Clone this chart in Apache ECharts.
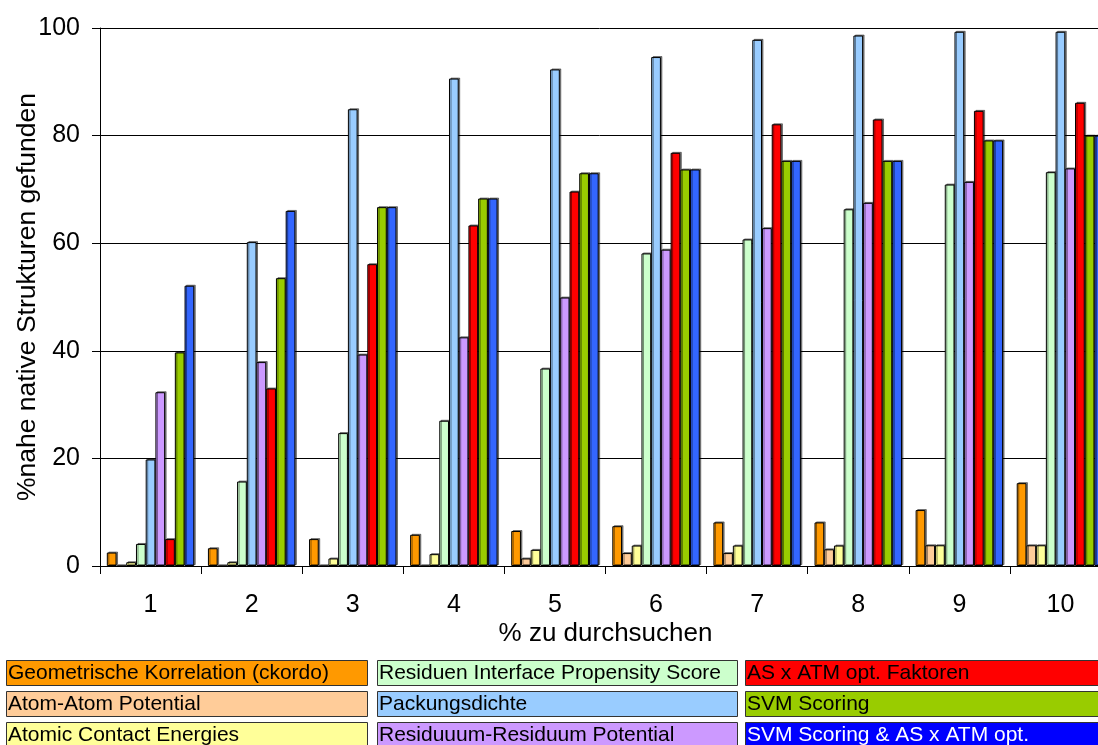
<!DOCTYPE html>
<html>
<head>
<meta charset="utf-8">
<script src="https://cdn.jsdelivr.net/npm/echarts@6/dist/echarts.min.js"></script>
<style>
  html, body { margin: 0; padding: 0; background: #fff; }
  #chart { width: 1098px; height: 745px; }
</style>
</head>
<body>
<div id="chart"></div>
<script>
// ---- Data ----
const categories = ['1', '2', '3', '4', '5', '6', '7', '8', '9', '10'];
const seriesNames = [
  'Geometrische Korrelation (ckordo)',
  'Atom-Atom Potential',
  'Atomic Contact Energies',
  'Residuen Interface Propensity Score',
  'Packungsdichte',
  'Residuuum-Residuum Potential',
  'AS x ATM opt. Faktoren',
  'SVM Scoring',
  'SVM Scoring & AS x ATM opt.'
];
const geometrische = [2.5, 3.3, 5.0, 5.8, 6.5, 7.4, 8.1, 8.1, 10.4, 15.4];
const atomAtom     = [0, 0, 0, 0, 1.4, 2.4, 2.4, 3.1, 3.85, 3.85];
const atomicContact= [0.7, 0.7, 1.4, 2.2, 3.0, 3.8, 3.8, 3.8, 3.85, 3.85];
const residuenIPS  = [4.1, 15.7, 24.7, 27.0, 36.7, 58.1, 60.7, 66.3, 70.9, 73.2];
const packung      = [19.8, 60.2, 84.9, 90.6, 92.3, 94.6, 97.8, 98.6, 99.3, 99.3];
const resRes       = [32.3, 37.9, 39.3, 42.5, 49.9, 58.8, 62.8, 67.5, 71.4, 73.9];
const asAtm        = [5.0, 33.0, 56.1, 63.3, 69.6, 76.8, 82.1, 83.0, 84.6, 86.1];
const svm          = [39.7, 53.5, 66.7, 68.3, 73.0, 73.7, 75.3, 75.3, 79.1, 80.0];
const svmAsAtm     = [52.1, 66.0, 66.7, 68.3, 73.0, 73.7, 75.3, 75.3, 79.1, 80.0];
const yTicks = [0, 20, 40, 60, 80, 100];

const seriesData = [geometrische, atomAtom, atomicContact, residuenIPS, packung, resRes, asAtm, svm, svmAsAtm];
const barColors = ['#FF9900', '#FFCC99', '#FFFF99', '#CCFFCC', '#99CCFF', '#CC99FF', '#FF0000', '#99CC00', '#3366FF'];
const legendColors = ['#FF9900', '#FFCC99', '#FFFF99', '#CCFFCC', '#99CCFF', '#CC99FF', '#FF0000', '#99CC00', '#0000FF'];
const legendTextColors = ['#000', '#000', '#000', '#000', '#000', '#000', '#000', '#000', '#fff'];

const FONT = "'Liberation Sans', Arial, Helvetica, sans-serif";

const chart = echarts.init(document.getElementById('chart'), null, { renderer: 'canvas' });

const series = seriesNames.map((name, i) => ({
  name: name,
  type: 'bar',
  data: seriesData[i],
  barGap: '0%',
  barCategoryGap: '13.5%',
  animation: false,
  itemStyle: {
    color: barColors[i],
    borderColor: '#000',
    borderWidth: 1,
    shadowColor: 'rgba(0,0,0,0.45)',
    shadowOffsetX: 1.5,
    shadowOffsetY: -1,
    shadowBlur: 0
  },
  emphasis: { disabled: true }
}));

// legend boxes (drawn as graphic, column-major)
const colX = [6, 377, 745];
const colW = [361, 360, 360];
const rowY = [660, 691, 722];
const graphics = [];
seriesNames.forEach((name, i) => {
  const c = Math.floor(i / 3), r = i % 3;
  graphics.push({
    type: 'rect',
    shape: { x: colX[c] + 0.5, y: rowY[r] + 0.5, width: colW[c], height: 25 },
    style: { fill: legendColors[i], stroke: '#333', lineWidth: 1 },
    silent: true
  });
  graphics.push({
    type: 'text',
    x: colX[c] + 2,
    y: rowY[r] + 13.5,
    style: {
      text: name,
      fill: legendTextColors[i],
      font: '21px ' + FONT,
      verticalAlign: 'middle',
      align: 'left'
    },
    silent: true
  });
});

chart.setOption({
  animation: false,
  backgroundColor: '#fff',
  grid: { left: 100, top: 28, right: -13, bottom: 179, containLabel: false, outerBoundsMode: 'none' },
  xAxis: {
    type: 'category',
    data: categories,
    name: '% zu durchsuchen',
    nameLocation: 'middle',
    nameGap: 55,
    nameMoveOverlap: false,
    nameTextStyle: { fontFamily: FONT, fontSize: 26, color: '#000' },
    axisLine: { show: true, lineStyle: { color: '#000', width: 1 } },
    axisTick: { show: true, length: 8, inside: false, lineStyle: { color: '#000' } },
    axisLabel: { fontFamily: FONT, fontSize: 25, color: '#000', margin: 27 },
    splitLine: { show: false }
  },
  yAxis: {
    type: 'value',
    min: yTicks[0],
    max: yTicks[yTicks.length - 1],
    interval: yTicks[1] - yTicks[0],
    name: '%nahe native Strukturen gefunden',
    nameLocation: 'middle',
    nameGap: 59,
    nameMoveOverlap: false,
    nameTextStyle: { fontFamily: FONT, fontSize: 26.5, color: '#000' },
    axisLine: { show: true, lineStyle: { color: '#000', width: 1 } },
    axisTick: { show: true, length: 8, inside: false, lineStyle: { color: '#000' } },
    axisLabel: { fontFamily: FONT, fontSize: 25, color: '#000', margin: 20 },
    splitLine: { show: true, lineStyle: { color: '#000', width: 1 } }
  },
  series: series,
  graphic: graphics
});
</script>
</body>
</html>
